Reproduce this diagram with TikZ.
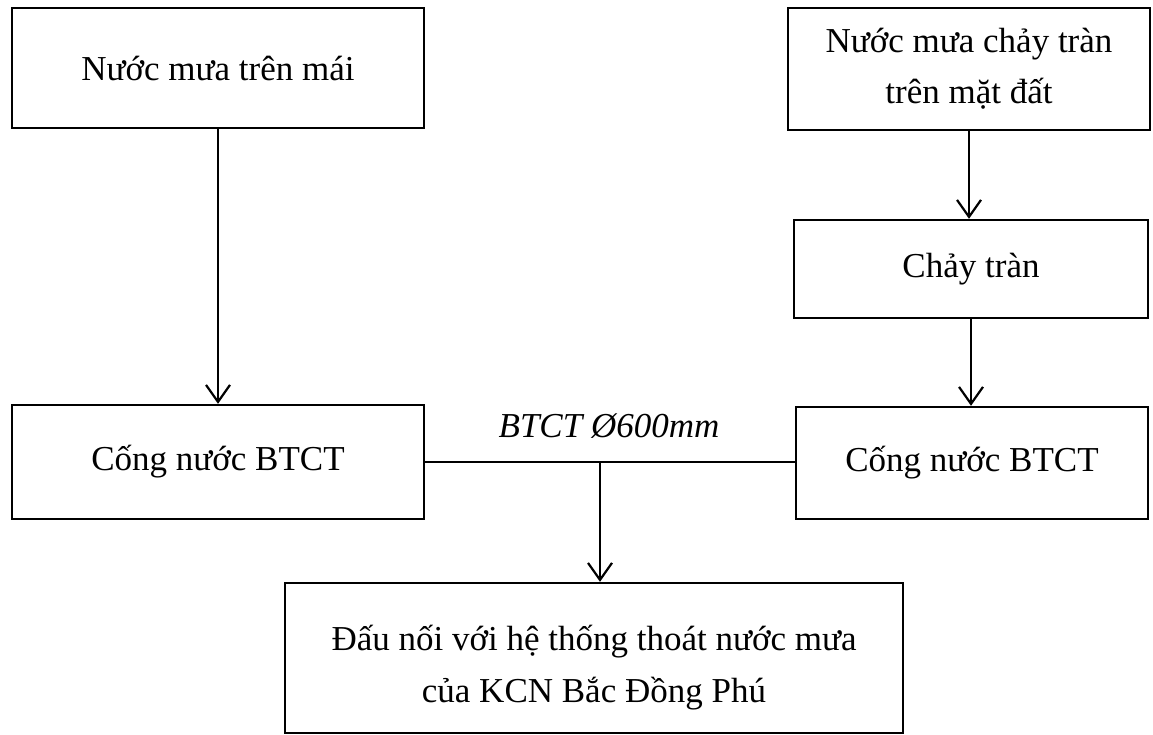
\documentclass[tikz,border=0pt]{standalone}
\usepackage{fontspec}
\setmainfont{Liberation Serif}
\usetikzlibrary{arrows.meta}

\begin{document}
\begin{tikzpicture}[x=1pt,y=1pt,
  box/.style={draw, line width=2.4pt, inner sep=0pt, align=center,
    font=\fontsize{35}{51}\selectfont},
  txt/.style={inner sep=0pt, align=center, font=\fontsize{35}{52}\selectfont},
  flow/.style={line width=2.2pt},
  arr/.style={flow, -{Straight Barb[length=17pt,width=24pt,line width=2.2pt]}},
  lbl/.style={font=\fontsize{35}{40}\selectfont\itshape, inner sep=0pt}]
  \useasboundingbox (0,0) rectangle (1153,-734);

  % sources
  \node[box, minimum width=412, minimum height=120] (roof) at (218,-68) {Nước mưa trên mái};
  \node[box, minimum width=362, minimum height=122] (ground) at (969,-69) {Nước mưa chảy tràn\\trên mặt đất};
  \node[box, minimum width=354, minimum height=98] (runoff) at (971,-269) {Chảy tràn};

  % culverts
  \node[box, minimum width=412, minimum height=114] (culvL) at (218,-462) {Cống nước BTCT};
  \node[box, minimum width=352, minimum height=112] (culvR) at (972,-463) {Cống nước BTCT};

  % outlet box and its two-line caption
  \node[box, minimum width=618, minimum height=150] (outlet) at (594,-658) {};
  \node[txt] (outletText) at (594,-668) {Đấu nối với hệ thống thoát nước mưa\\của KCN Bắc Đồng Phú};

  % connectors
  \draw[arr] (roof.south) -- (roof.south |- culvL.north);
  \draw[arr] (ground.south) -- (ground.south |- runoff.north);
  \draw[arr] (runoff.south) -- (runoff.south |- culvR.north);
  \draw[flow] (culvL.east) -- (culvL.east -| culvR.west);
  \coordinate (junction) at (600,-462);
  \draw[arr] (junction) -- (junction |- outlet.north);

  % pipe label
  \node[lbl, anchor=base] (pipe) at (609,-437) {BTCT Ø600mm};
\end{tikzpicture}
\end{document}
